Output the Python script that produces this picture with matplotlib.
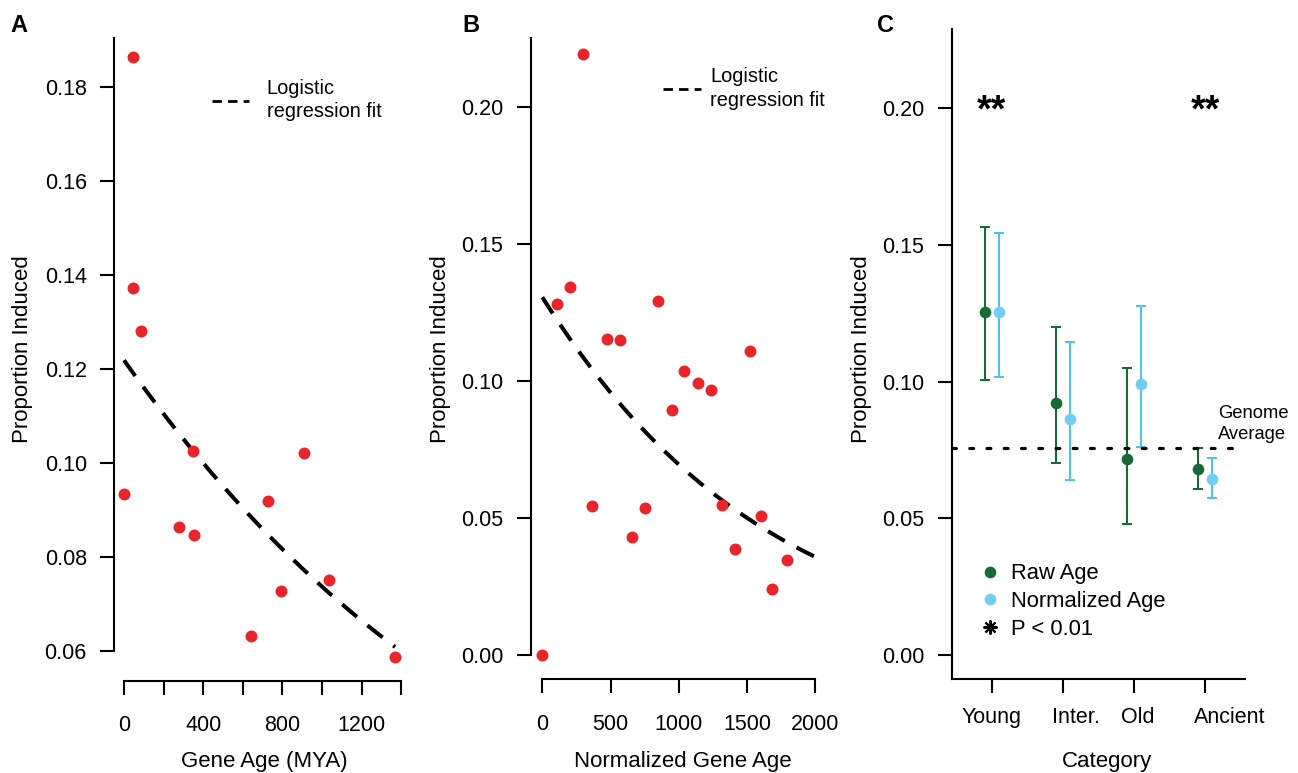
import matplotlib
matplotlib.use('Agg')
import matplotlib.pyplot as plt
import numpy as np
from matplotlib.lines import Line2D
from matplotlib.transforms import ScaledTranslation

plt.rcParams['font.family'] = ['Liberation Sans', 'DejaVu Sans']

# ---------------- Data ----------------
# Panel A: proportion induced vs gene age (MYA)
gene_age_mya = [0, 44, 47, 86, 276, 350, 355, 643, 727, 791, 909, 1035, 1369]
prop_induced_a = [0.0933, 0.1864, 0.1372, 0.1281, 0.0864, 0.1025, 0.0847,
                  0.0631, 0.0918, 0.0726, 0.1020, 0.0750, 0.0587]
fit_a_intercept = -1.9755
fit_a_slope = -0.0005566

# Panel B: proportion induced vs normalized gene age
norm_gene_age = [0, 106, 201, 296, 362, 477, 572, 658, 751, 850, 951, 1039,
                 1139, 1237, 1320, 1415, 1523, 1603, 1682, 1792]
prop_induced_b = [0.0, 0.1281, 0.1343, 0.2193, 0.0545, 0.1154, 0.1150, 0.0432,
                  0.0536, 0.1294, 0.0894, 0.1036, 0.0995, 0.0970, 0.0550,
                  0.0388, 0.1112, 0.0508, 0.0241, 0.0346]
fit_b_intercept = -1.8948
fit_b_slope = -0.0006978

# Panel C: category means with intervals
categories = ['Young', 'Inter.', 'Old', 'Ancient']
raw_mean = [0.1256, 0.0922, 0.0716, 0.0679]
raw_low = [0.1006, 0.0701, 0.0479, 0.0608]
raw_high = [0.1564, 0.1201, 0.1050, 0.0757]
norm_mean = [0.1255, 0.0861, 0.0990, 0.0643]
norm_low = [0.1016, 0.0640, 0.0762, 0.0573]
norm_high = [0.1543, 0.1146, 0.1277, 0.0721]
genome_average = 0.0756
significant = [True, False, False, True]

# ---------------- Style ----------------
RED = '#E8252B'
GREEN = '#176A36'
BLUE_LINE = '#4DC3F0'
BLUE_DOT = '#72CDF4'

W, H = 1298, 773
fig = plt.figure(figsize=(W / 100, H / 100), dpi=100)


def px_axes(l, t, r, b):
    return fig.add_axes([l / W, 1 - b / H, (r - l) / W, (b - t) / H])


def style(ax, ypad, xpad):
    for s in ['top', 'right']:
        ax.spines[s].set_visible(False)
    for s in ['left', 'bottom']:
        ax.spines[s].set_linewidth(1.5)
    ax.tick_params(axis='both', width=1.5, length=10, labelsize=15.5, color='black')
    ax.tick_params(axis='y', pad=ypad)
    ax.tick_params(axis='x', pad=xpad)


def logistic(a, b, x):
    return 1.0 / (1.0 + np.exp(-(a + b * x)))


fit_ls = (0, (4.8, 3.35))
leg_ls = (0, (3.4, 2.2))

# ---------------- Panel A ----------------
axA = px_axes(114, 38, 420, 680.7)
axA.set_xlim(-50.5, 1494.9)
axA.set_ylim(0.05362, 0.19036)
style(axA, 9.6, 15)
axA.spines['left'].set_bounds(0.06, 0.19036)
axA.spines['bottom'].set_bounds(0, 1400)
axA.set_yticks(np.arange(0.06, 0.181, 0.02))
axA.set_yticklabels([f'{v:.2f}' for v in np.arange(0.06, 0.181, 0.02)])
xtA = np.arange(0, 1401, 200)
axA.set_xticks(xtA)
axA.set_xticklabels([str(v) if v % 400 == 0 else '' for v in xtA])
xa = np.linspace(0, max(gene_age_mya), 200)
axA.plot(xa, logistic(fit_a_intercept, fit_a_slope, xa), color='black', lw=2.9, ls=fit_ls)
axA.plot(gene_age_mya, prop_induced_a, 'o', color=RED, ms=8.6, mec='none', clip_on=False)
legA = axA.legend(handles=[Line2D([], [], color='black', lw=2, ls=leg_ls)],
                  labels=['Logistic\nregression fit'], loc='center left',
                  bbox_to_anchor=(212 / W, 1 - 100 / H), bbox_transform=fig.transFigure,
                  frameon=False, fontsize=14.4, handlelength=1.865, handletextpad=0.87,
                  borderpad=0, borderaxespad=0)
for t in legA.get_texts():
    t.set_linespacing(1.32)

# ---------------- Panel B ----------------
axB = px_axes(531, 37.7, 830, 679.3)
axB.set_xlim(-82.8, 2107.8)
axB.set_ylim(-0.00876, 0.2254)
style(axB, 9.8, 15)
axB.spines['left'].set_bounds(0, 0.2254)
axB.spines['bottom'].set_bounds(0, 2000)
ytB = np.arange(0, 0.201, 0.05)
axB.set_yticks(ytB)
axB.set_yticklabels([f'{v:.2f}' for v in ytB])
axB.set_xticks(np.arange(0, 2001, 500))
xb = np.linspace(0, 2000, 200)
axB.plot(xb, logistic(fit_b_intercept, fit_b_slope, xb), color='black', lw=2.9, ls=fit_ls)
axB.plot(norm_gene_age, prop_induced_b, 'o', color=RED, ms=8.6, mec='none', clip_on=False)
legB = axB.legend(handles=[Line2D([], [], color='black', lw=2, ls=leg_ls)],
                  labels=['Logistic\nregression fit'], loc='center left',
                  bbox_to_anchor=(663.3 / W, 1 - 88.5 / H), bbox_transform=fig.transFigure,
                  frameon=False, fontsize=14.4, handlelength=1.865, handletextpad=0.47,
                  borderpad=0, borderaxespad=0)
for t in legB.get_texts():
    t.set_linespacing(1.32)

# ---------------- Panel C ----------------
axC = px_axes(952.3, 29.3, 1245, 679)
axC.set_xlim(0.4459, 4.5626)
axC.set_ylim(-0.00889, 0.22892)
style(axC, 10.3, 10)
ytC = np.arange(0, 0.201, 0.05)
axC.set_yticks(ytC)
axC.set_yticklabels([f'{v:.2f}' for v in ytC])
pos = np.arange(1, len(categories) + 1)
axC.set_xticks(pos)
axC.set_xticklabels(categories)
label_shift_px = [0, 13.3, 4.3, 24.5]
for lab, dx in zip(axC.get_xticklabels(), label_shift_px):
    lab.set_transform(lab.get_transform() + ScaledTranslation(dx * 0.72 / 72, 0, fig.dpi_scale_trans))

axC.axhline(genome_average, color='black', lw=2.3, ls=(0, (1.2, 4.2)),
            dash_capstyle='round', zorder=3)

rm = np.array(raw_mean)
nm = np.array(norm_mean)
axC.errorbar(pos - 0.1, rm, yerr=[rm - np.array(raw_low), np.array(raw_high) - rm],
             fmt='o', color=GREEN, ms=8.4, mec='none', elinewidth=1.45,
             capsize=3.85, capthick=1.45, zorder=2)
axC.errorbar(pos + 0.1, nm, yerr=[nm - np.array(norm_low), np.array(norm_high) - nm],
             fmt='none', ecolor=BLUE_LINE, elinewidth=1.45,
             capsize=3.85, capthick=1.45, zorder=2)
axC.plot(pos + 0.1, nm, 'o', color=BLUE_DOT, ms=8.4, mec='none', zorder=2.5)

for p, sig in zip(pos, significant):
    if sig:
        axC.text(p, 0.1990, '**', ha='center', va='center', fontsize=27,
                 fontweight='bold')

axC.text(4.187, 0.0846, 'Genome\nAverage', ha='left', va='center', fontsize=13.2,
         linespacing=1.3, clip_on=False)

handlesC = [Line2D([], [], marker='o', ls='none', color=GREEN, ms=8.4, mec='none'),
            Line2D([], [], marker='o', ls='none', color=BLUE_DOT, ms=8.4, mec='none'),
            Line2D([], [], marker=(8, 2, 0), ls='none', color='black', ms=10, mew=1.5)]
axC.legend(handles=handlesC, labels=['Raw Age', 'Normalized Age', 'P < 0.01'],
           loc='center left', bbox_to_anchor=(979 / W, 1 - 601.5 / H),
           bbox_transform=fig.transFigure, frameon=False, fontsize=15.8,
           handlelength=1.0, handletextpad=0.45, labelspacing=0.3,
           borderpad=0, borderaxespad=0)

# ---------------- Labels ----------------
for x, letter in [(10, 'A'), (462, 'B'), (877, 'C')]:
    fig.text(x / W, 1 - 32 / H, letter, fontsize=17, fontweight='bold',
             ha='left', va='baseline')

for x in [28.3, 446, 867]:
    fig.text(x / W, 1 - 349 / H, 'Proportion Induced', rotation=90,
             rotation_mode='anchor', ha='center', va='baseline', fontsize=16)

for x, txt in [(264.7, 'Gene Age (MYA)'), (683, 'Normalized Gene Age'), (1107, 'Category')]:
    fig.text(x / W, 1 - 767 / H, txt, ha='center', va='baseline', fontsize=16)

fig.savefig('out.png', dpi=100)
